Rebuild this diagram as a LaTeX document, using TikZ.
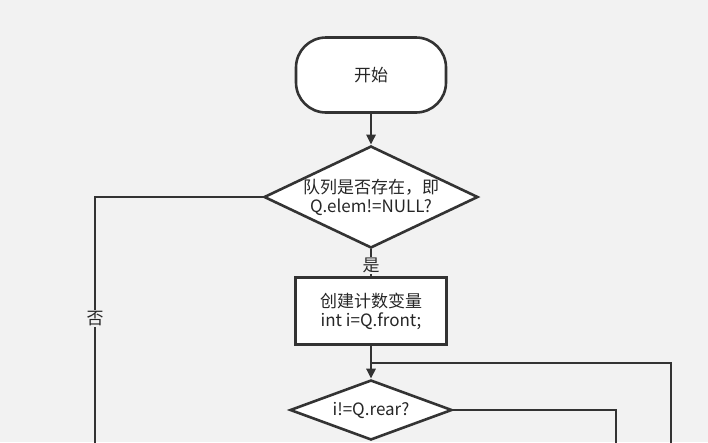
\documentclass[tikz,border=0pt]{standalone}
\usepackage{fontspec}
\setmainfont{Noto Sans CJK SC}
\usetikzlibrary{shapes.geometric,arrows.meta}

\begin{document}
\begin{tikzpicture}[x=1pt,y=-1pt,
  every node/.style={font=\fontsize{17}{19}\selectfont,text=black!85},
  flow/.style={line width=2.6pt,draw=black!80},
  arr/.style={flow,-{Triangle[length=10pt,width=9pt]}},
  terminal/.style={flow,fill=white,rounded corners=30pt,minimum width=150pt,minimum height=75pt},
  decide/.style={flow,fill=white,diamond,aspect=2.1,inner sep=0pt,align=center},
  process/.style={flow,fill=white,minimum width=151pt,minimum height=67pt,align=center}]
\fill[black!5] (0,0) rectangle (708,442);
\useasboundingbox (0,0) rectangle (708,442);
\node[terminal] (start) at (371,75) {开始};
\node[decide,minimum width=214pt,minimum height=102pt] (exist) at (371,197) {队列是否存在，即\\Q.elem!=NULL?};
\node[process] (count) at (371,311) {创建计数变量\\int i=Q.front;};
\node[decide,minimum width=162pt,minimum height=60pt] (loop) at (371,410) {i!=Q.rear?};
\coordinate (noend) at (95,450);
\coordinate (yesend) at (616,450);
\coordinate (back) at (671,450);
\coordinate (join) at (371,363);
\draw[arr] (start) -- (exist);
\draw[flow] (exist) -- node[pos=0.6,fill=black!5,inner sep=1pt] {是} (count);
\draw[arr] (count) -- (loop);
\draw[flow] (exist.west) -| node[pos=0.74,fill=black!5,inner sep=1pt] {否} (noend);
\draw[flow] (loop.east) -| (yesend);
\draw[flow] (back) |- (join);
\end{tikzpicture}
\end{document}
